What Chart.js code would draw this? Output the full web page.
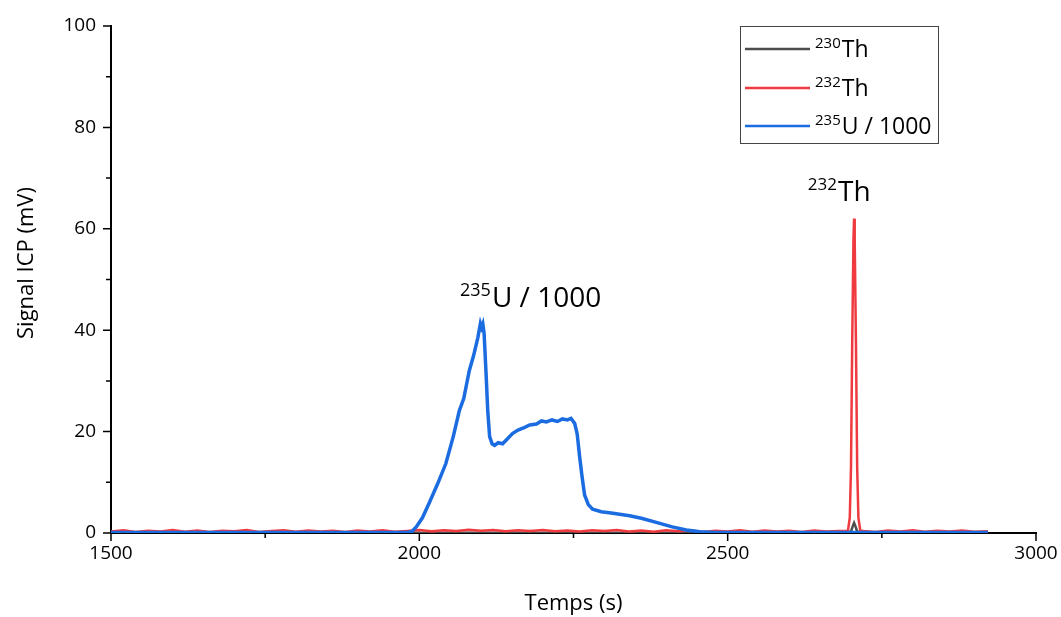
<!DOCTYPE html>
<html>
<head>
<meta charset="utf-8">
<script src="https://cdn.jsdelivr.net/npm/chart.js@4/dist/chart.umd.min.js"></script>
<style>
  body { margin: 0; background: #fff; }
  #wrap { width: 1061px; height: 617px; }
</style>
</head>
<body>
<div id="wrap"><canvas id="icpChart" width="1061" height="617"></canvas></div>
<script>
// 230Th signal (mV)
const th230Time = [1500, 2000, 2500, 2695, 2700, 2703, 2705, 2707, 2710, 2715, 2922];
const th230 = [0.05, 0.05, 0.05, 0.05, 0.3, 1.4, 2.0, 1.4, 0.3, 0.05, 0.05];

// 232Th signal (mV)
const th232Time = [1500, 1520, 1540, 1560, 1580, 1600, 1620, 1640, 1660, 1680,
  1700, 1720, 1740, 1760, 1780, 1800, 1820, 1840, 1860, 1880,
  1900, 1920, 1940, 1960, 1980, 2000, 2020, 2040, 2060, 2080,
  2100, 2120, 2140, 2160, 2180, 2200, 2220, 2240, 2260, 2280,
  2300, 2320, 2340, 2360, 2380, 2400, 2420, 2440, 2460, 2480,
  2500, 2520, 2540, 2560, 2580, 2600, 2620, 2640, 2660, 2680,
  2695, 2698, 2700, 2702, 2704, 2705, 2706, 2708, 2710, 2712, 2715,
  2720, 2740, 2760, 2780, 2800, 2820, 2840, 2860, 2880, 2900, 2922];
const th232 = [0.3, 0.55, 0.2, 0.45, 0.3, 0.6, 0.25, 0.5, 0.2, 0.45,
  0.35, 0.6, 0.2, 0.4, 0.55, 0.25, 0.5, 0.3, 0.45, 0.2,
  0.5, 0.3, 0.55, 0.25, 0.4, 0.6, 0.35, 0.55, 0.4, 0.65,
  0.45, 0.6, 0.35, 0.55, 0.4, 0.6, 0.35, 0.5, 0.3, 0.55,
  0.4, 0.6, 0.3, 0.5, 0.25, 0.55, 0.35, 0.5, 0.2, 0.45,
  0.3, 0.55, 0.25, 0.5, 0.3, 0.45, 0.2, 0.5, 0.3, 0.4,
  0.4, 3, 13, 38, 58, 62, 58, 38, 13, 3, 0.5,
  0.4, 0.2, 0.5, 0.3, 0.55, 0.25, 0.45, 0.3, 0.5, 0.25, 0.35];

// 235U signal / 1000 (mV)
const u235Time = [1500, 1700, 1900, 1980, 1988, 1995, 2005, 2016, 2030, 2043,
  2055, 2065, 2072, 2081, 2088, 2095, 2099, 2101, 2103, 2105,
  2108, 2111, 2114, 2118, 2122, 2128, 2135, 2143, 2151, 2160,
  2170, 2179, 2190, 2198, 2206, 2215, 2224, 2232, 2240, 2246,
  2252, 2256, 2260, 2264, 2268, 2274, 2281, 2295, 2314, 2330,
  2341, 2360, 2390, 2410, 2433, 2455, 2480, 2600, 2800, 2922];
const u235 = [0.1, 0.1, 0.1, 0.1, 0.3, 1.2, 3.0, 5.9, 9.8, 13.7,
  19.0, 24.2, 26.5, 32.0, 35.0, 38.6, 41.3, 40.5, 41.2, 39.4,
  32.0, 24.0, 19.0, 17.6, 17.3, 17.8, 17.6, 18.6, 19.6, 20.3,
  20.8, 21.3, 21.5, 22.1, 21.9, 22.3, 22.0, 22.5, 22.3, 22.6,
  21.6, 19.5, 15.0, 11.0, 7.5, 5.6, 4.7, 4.2, 3.9, 3.6,
  3.4, 2.9, 1.9, 1.2, 0.6, 0.25, 0.12, 0.1, 0.1, 0.1];

const xTicks = [1500, 2000, 2500, 3000];
const xMinor = [1750, 2250, 2750];
const yTicks = [0, 20, 40, 60, 80, 100];
const yMinor = [10, 30, 50, 70, 90];

const FONT = "'Open Sans', sans-serif";
const COLORS = { th230: "#4d4d4d", th232: "#ef3b3f", u235: "#1b6ce0" };

const toPoints = (xs, ys) => xs.map((x, i) => ({ x, y: ys[i] }));

// draw "sup" + "main" text, left aligned at x, baseline y
function supText(ctx, x, y, sup, main, supSize, mainSize, raise) {
  ctx.textBaseline = "alphabetic";
  ctx.textAlign = "left";
  ctx.font = `${supSize}px ${FONT}`;
  ctx.fillText(sup, x, y - raise);
  const w = ctx.measureText(sup).width;
  ctx.font = `${mainSize}px ${FONT}`;
  ctx.fillText(main, x + w + 1, y);
}

const decorations = {
  id: "decorations",
  afterDraw(chart) {
    const { ctx, chartArea, scales } = chart;
    const xs = scales.x, ys = scales.y;
    ctx.save();
    ctx.strokeStyle = "#000";
    ctx.fillStyle = "#000";
    ctx.lineWidth = 1.5;

    // tick marks (outward)
    ctx.beginPath();
    xTicks.forEach(v => { const p = xs.getPixelForValue(v); ctx.moveTo(p, chartArea.bottom); ctx.lineTo(p, chartArea.bottom + 8); });
    xMinor.forEach(v => { const p = xs.getPixelForValue(v); ctx.moveTo(p, chartArea.bottom); ctx.lineTo(p, chartArea.bottom + 5); });
    yTicks.forEach(v => { const p = ys.getPixelForValue(v); ctx.moveTo(chartArea.left, p); ctx.lineTo(chartArea.left - 8, p); });
    yMinor.forEach(v => { const p = ys.getPixelForValue(v); ctx.moveTo(chartArea.left, p); ctx.lineTo(chartArea.left - 5, p); });
    ctx.stroke();

    // axis titles
    ctx.font = `22px ${FONT}`;
    ctx.textAlign = "center";
    ctx.textBaseline = "middle";
    ctx.fillText("Temps (s)", (chartArea.left + chartArea.right) / 2, 604);
    ctx.save();
    ctx.translate(27, 263);
    ctx.rotate(-Math.PI / 2);
    ctx.fillText("Signal ICP (mV)", 0, 0);
    ctx.restore();

    // peak annotations
    supText(ctx, xs.getPixelForValue(2066), ys.getPixelForValue(44.5), "235", "U / 1000", 18, 28, 11);
    supText(ctx, xs.getPixelForValue(2630), ys.getPixelForValue(65.4), "232", "Th", 17, 28, 11);

    // legend
    ctx.lineWidth = 1;
    ctx.strokeStyle = "#444";
    ctx.strokeRect(740.5, 26.5, 198, 117);
    const rows = [
      { sup: "230", main: "Th", color: COLORS.th230, y: 49 },
      { sup: "232", main: "Th", color: COLORS.th232, y: 88 },
      { sup: "235", main: "U / 1000", color: COLORS.u235, y: 126 },
    ];
    rows.forEach(r => {
      ctx.strokeStyle = r.color;
      ctx.lineWidth = 2.5;
      ctx.beginPath();
      ctx.moveTo(745, r.y);
      ctx.lineTo(810, r.y);
      ctx.stroke();
      ctx.fillStyle = "#000";
      supText(ctx, 815, r.y + 8, r.sup, r.main, 15, 23, 9);
    });
    ctx.restore();
  }
};

const lineDs = (label, pts, color, order, width) => ({
  label, data: pts, borderColor: color, backgroundColor: color,
  borderWidth: width, pointRadius: 0, tension: 0, order,
});

new Chart(document.getElementById("icpChart"), {
  type: "line",
  data: {
    datasets: [
      lineDs("230Th", toPoints(th230Time, th230), COLORS.th230, 3, 2.5),
      lineDs("232Th", toPoints(th232Time, th232), COLORS.th232, 2, 2.5),
      lineDs("235U / 1000", toPoints(u235Time, u235), COLORS.u235, 1, 3.5),
    ],
  },
  options: {
    responsive: false,
    animation: false,
    devicePixelRatio: 1,
    layout: { autoPadding: false, padding: { top: 26, right: 25, left: 0, bottom: 0 } },
    plugins: { legend: { display: false }, tooltip: { enabled: false } },
    scales: {
      x: {
        type: "linear",
        min: 1500, max: 3000,
        afterFit: s => { s.height = 84; s.paddingLeft = 0; s.paddingRight = 0; },
        grid: { display: false, drawTicks: false },
        border: { display: true, color: "#000", width: 2 },
        ticks: {
          stepSize: 500, padding: 9, color: "#000",
          font: { family: FONT, size: 19 },
          maxRotation: 0,
          callback: v => String(v),
        },
      },
      y: {
        min: 0, max: 100,
        afterFit: s => { s.width = 111; s.paddingTop = 0; s.paddingBottom = 0; },
        grid: { display: false, drawTicks: false },
        border: { display: true, color: "#000", width: 2 },
        ticks: {
          stepSize: 20, padding: 15, color: "#000",
          font: { family: FONT, size: 19 },
          callback: v => String(v),
        },
      },
    },
  },
  plugins: [decorations],
});
</script>
</body>
</html>
